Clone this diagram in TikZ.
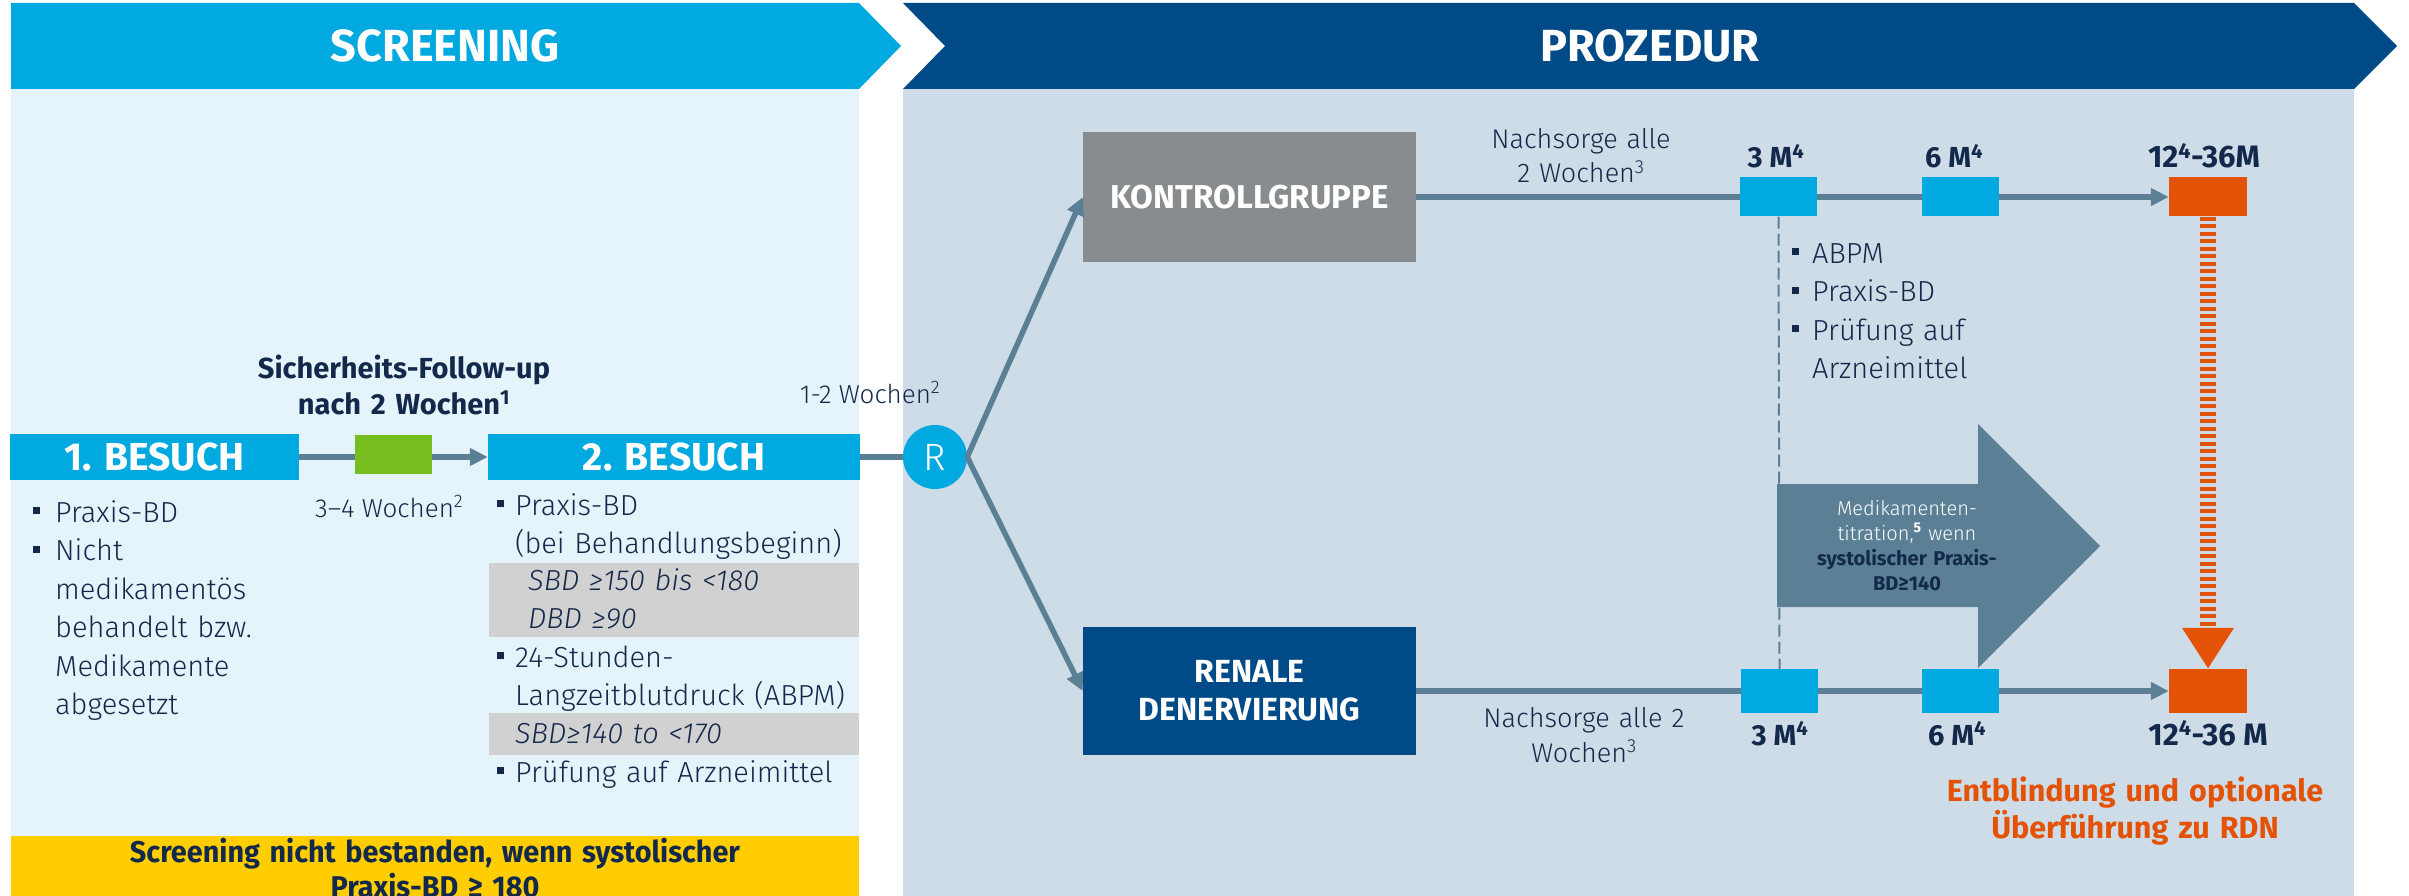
\documentclass[tikz,border=0pt]{standalone}
\usepackage{fontspec}
\setmainfont{Fira Sans}[UprightFont={* Light}, ItalicFont={* Light Italic}, BoldFont={* Bold}, BoldItalicFont={* Bold Italic}]
\usetikzlibrary{arrows.meta}
\definecolor{cyanB}{HTML}{00A9E0}
\definecolor{navyB}{HTML}{004B87}
\definecolor{scrBg}{HTML}{E5F4FA}
\definecolor{proBg}{HTML}{CEDCE8}
\definecolor{lineC}{HTML}{5B7F95}
\definecolor{grayBox}{HTML}{898C8E}
\definecolor{orangeB}{HTML}{E35205}
\definecolor{greenB}{HTML}{78BE21}
\definecolor{yellowB}{HTML}{FFCD00}
\definecolor{condGray}{HTML}{D1D1D1}
\definecolor{txt}{HTML}{13294B}
\newcommand{\bul}[1][21pt]{\makebox[#1][l]{\rule[8pt]{7pt}{7pt}}}
\tikzset{
  hdr/.style={inner sep=0pt, text=white, font=\fontsize{45}{50}\selectfont\bfseries},
  box/.style={inner sep=0pt, text=white, align=center},
  body/.style={inner sep=0pt, text=txt, font=\fontsize{29}{38.5}\selectfont, align=left, text width=360pt, anchor=base west},
  small/.style={inner sep=0pt, text=txt, font=\fontsize{26}{34}\selectfont},
  lab/.style={inner sep=0pt, text=txt, font=\fontsize{29}{36}\selectfont\bfseries, anchor=base},
  ln/.style={line width=5.5pt, draw=lineC},
  arr/.style={ln, -{Triangle[length=18pt,width=17pt]}},
}
\begin{document}
\begin{tikzpicture}[x=1pt,y=-1pt]
\useasboundingbox (0,0) rectangle (2409,896);
% headers and panels
\fill[cyanB] (11,3) -- (859,3) -- (901,46) -- (859,89) -- (11,89) -- cycle;
\fill[navyB] (903,3) -- (2354,3) -- (2397,46) -- (2354,89) -- (903,89) -- (945,46) -- cycle;
\fill[scrBg] (11,89) rectangle (859,896);
\fill[proBg] (903,89) rectangle (2354,896);
\node[hdr] (hs) at (445,46) {SCREENING};
\node[hdr] (hp) at (1650,46) {PROZEDUR};

% screening
\node[box, fill=cyanB, minimum width=289pt, minimum height=46pt, font=\fontsize{39}{40}\selectfont\bfseries] (b1) at (154.5,457) {1. BESUCH};
\node[box, fill=cyanB, minimum width=372pt, minimum height=46pt, font=\fontsize{39}{40}\selectfont\bfseries] (b2) at (674,457) {2. BESUCH};
\node[box, fill=greenB, minimum width=77pt, minimum height=39pt] (g) at (393.5,454) {};
\draw[ln] (b1.east) -- (g.west |- b1.east);
\draw[arr] (g.east |- b2.west) -- (b2.west);
\node[small, font=\fontsize{29}{36}\selectfont\bfseries, align=center, text width=400pt, anchor=base] (fu) at (404,378) {Sicherheits-Follow-up\\nach 2 Wochen\textsuperscript{1}};
\node[small, anchor=base west] (w34) at (315,517) {3–4 Wochen\textsuperscript{2}};

\node[body] (ll) at (33,522) {\bul[22pt]Praxis-BD\\\bul[22pt]Nicht\\\hspace*{22pt}medikamentös\\\hspace*{22pt}behandelt bzw.\\\hspace*{22pt}Medikamente\\\hspace*{22pt}abgesetzt};

\fill[condGray] (489,563) rectangle (859,637);
\fill[condGray] (489,713) rectangle (859,755);
\node[body] (r1) at (497,515) {\bul[18pt]Praxis-BD\\\hspace*{18pt}(bei Behandlungsbeginn)};
\node[body, font=\fontsize{29}{38}\selectfont\itshape] (c1) at (528,590) {SBD ≥150 bis <180\\DBD ≥90};
\node[body] (r2) at (497,667) {\bul[18pt]24-Stunden-\\\hspace*{18pt}Langzeitblutdruck (ABPM)};
\node[body, font=\fontsize{29}{38}\selectfont\itshape] (c2) at (515,743) {SBD≥140 to <170};
\node[body] (r3) at (497,782) {\bul[18pt]Prüfung auf Arzneimittel};

\fill[yellowB] (11,836) rectangle (859,896);
\node[inner sep=0pt, text=txt, font=\fontsize{30}{35}\selectfont\bfseries, align=center, text width=840pt, anchor=base] (fail) at (435,862) {\scalebox{0.96}[1]{Screening nicht bestanden, wenn systolischer}\\\scalebox{0.96}[1]{Praxis-BD ≥ 180}};

% randomisation
\node[circle, fill=cyanB, minimum size=64pt, inner sep=0pt, text=white, font=\fontsize{38}{40}\selectfont] (R) at (935,457) {R};
\node[small, anchor=base] (w12) at (870,403) {1-2 Wochen\textsuperscript{2}};
\draw[ln] (b2.east) -- (R.west);

% arms
\node[box, fill=grayBox, minimum width=333pt, minimum height=129pt, font=\fontsize{33}{38}\selectfont\bfseries] (kg) at (1249.5,197) {KONTROLLGRUPPE};
\node[box, fill=navyB, minimum width=333pt, minimum height=128pt, font=\fontsize{32}{38}\selectfont\bfseries] (rdn) at (1249.5,691) {RENALE\\DENERVIERUNG};
\draw[arr] (R.east) -- (kg.west);
\draw[arr] (R.east) -- (rdn.west);

\node[box, fill=orangeB, minimum width=78pt, minimum height=39pt] (oa) at (2208,197) {};
\node[box, fill=orangeB, minimum width=78pt, minimum height=44pt] (ob) at (2208,691) {};
\draw[arr] (kg.east) -- (oa.west);
\draw[arr] (rdn.east) -- (ob.west);
\node[box, fill=cyanB, minimum width=77pt, minimum height=39pt] (m3a) at (1778.5,197) {};
\node[box, fill=cyanB, minimum width=77pt, minimum height=39pt] (m6a) at (1960.5,197) {};
\node[box, fill=cyanB, minimum width=77pt, minimum height=44pt] (m3b) at (1779.5,691) {};
\node[box, fill=cyanB, minimum width=77pt, minimum height=44pt] (m6b) at (1960.5,691) {};

% medication titration arrow
\fill[lineC] (1777,484) -- (1978,484) -- (1978,424) -- (2100,546) -- (1978,668) -- (1978,607) -- (1777,607) -- cycle;
\node[inner sep=0pt, text=white, font=\fontsize{20}{25}\selectfont, align=center, text width=200pt, anchor=base] (med) at (1907,515) {Medikamenten-\\titration,\textsuperscript{\bfseries 5} wenn\\\textcolor{txt}{\bfseries systolischer Praxis-}\\\textcolor{txt}{\bfseries BD≥140}};

\draw[lineC, line width=2pt, dash pattern=on 12pt off 5pt] (m3a.south) -- (m3b.north);
\draw[orangeB, line width=16pt, dash pattern=on 4pt off 3.5pt, -{Triangle[length=41pt,width=49pt]}] (oa.south) -- (ob.north);

% labels
\node[small, font=\fontsize{27}{34}\selectfont, align=center, text width=300pt, anchor=base] (ns1) at (1581,149) {Nachsorge alle\\2 Wochen\textsuperscript{3}};
\node[lab] (t3a) at (1776,168) {3 M\textsuperscript{4}};
\node[lab] (t6a) at (1954,168) {6 M\textsuperscript{4}};
\node[lab, font=\fontsize{31}{36}\selectfont\bfseries] (t12a) at (2204,168) {12\textsuperscript{4}-36M};
\node[small, font=\fontsize{27}{35}\selectfont, align=center, text width=300pt, anchor=base] (ns2) at (1584,727) {Nachsorge alle 2\\Wochen\textsuperscript{3}};
\node[lab] (t3b) at (1780,745) {3 M\textsuperscript{4}};
\node[lab] (t6b) at (1957,745) {6 M\textsuperscript{4}};
\node[lab, font=\fontsize{31}{36}\selectfont\bfseries] (t12b) at (2208,745) {12\textsuperscript{4}-36 M};
\node[body, text width=300pt] (kb) at (1792,263) {\bul[20pt]ABPM\\\bul[20pt]Praxis-BD\\\bul[20pt]Prüfung auf\\\hspace*{20pt}Arzneimittel};
\node[inner sep=0pt, text=orangeB, font=\fontsize{30.5}{37}\selectfont\bfseries, align=center, text width=450pt, anchor=base] (unb) at (2135,801) {Entblindung und optionale\\Überführung zu RDN};
\end{tikzpicture}
\end{document}
